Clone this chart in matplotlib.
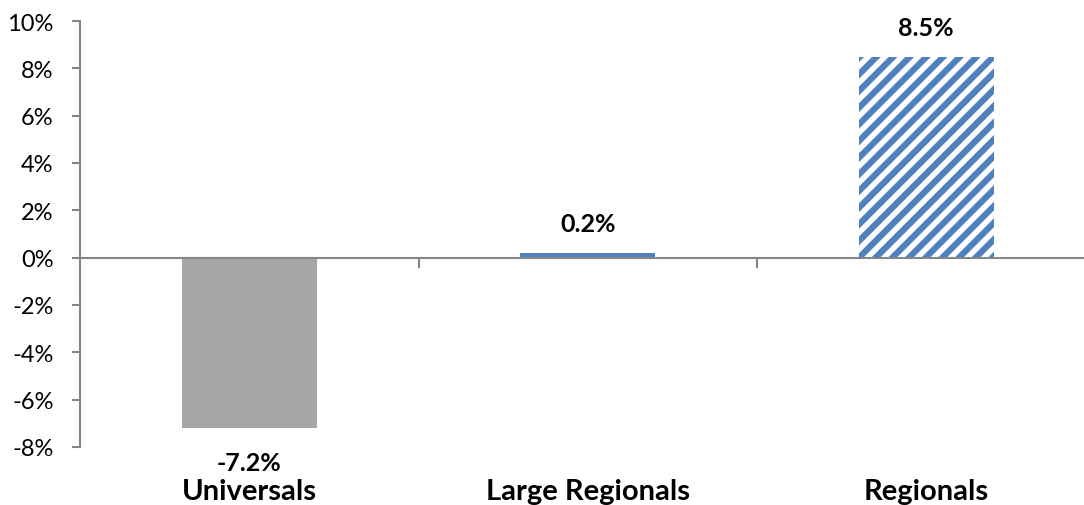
import matplotlib.pyplot as plt
from matplotlib.ticker import FuncFormatter

categories = ['Universals', 'Large Regionals', 'Regionals']
growth = [-7.2, 0.2, 8.5]
y_ticks = [-8, -6, -4, -2, 0, 2, 4, 6, 8, 10]

gray = '#A6A6A6'
blue = '#4F81BD'
axis_color = '#868686'

plt.rcParams['font.family'] = ['Lato', 'DejaVu Sans']
plt.rcParams['hatch.linewidth'] = 4.5
plt.rcParams['hatch.color'] = blue

fig = plt.figure(figsize=(10.84, 5.06), dpi=100)
ax = fig.add_axes([80 / 1084, 1 - 448 / 506, 1 - 80 / 1084, 426 / 506])

x = list(range(len(categories)))
bars = ax.bar(x, growth, width=0.4, color=[gray, blue, 'white'], linewidth=0, zorder=2)
bars[2].set_hatch('//')

ax.set_yticks(y_ticks)
ax.yaxis.set_major_formatter(FuncFormatter(lambda v, _: f'{v:.0f}%'))
ax.set_xticks([0.5, 1.5, 2.5])
ax.set_xticklabels([])
# the category axis runs past the right edge of the figure
ax.set_xlim(-0.5, -0.5 + 1004 / 338.5)
ax.set_ylim(-8, 10)

for side in ['top', 'right']:
    ax.spines[side].set_visible(False)
ax.spines['left'].set_color(axis_color)
ax.spines['left'].set_linewidth(1.5)
ax.spines['bottom'].set_position(('data', 0))
ax.spines['bottom'].set_color(axis_color)
ax.spines['bottom'].set_linewidth(1.5)

ax.tick_params(axis='y', direction='out', length=6, width=1.5, color=axis_color,
               pad=13, labelsize=17, labelcolor='black')
ax.tick_params(axis='x', direction='out', length=7, width=1.5, color=axis_color)

# category names sit under the plot area, not at the zero line
for xi, name in zip(x, categories):
    ax.text(xi, -0.103, name, transform=ax.get_xaxis_transform(),
            ha='center', va='center', fontsize=21, fontweight='bold')

for b, v in zip(bars, growth):
    offset = 21 if v >= 0 else -25
    ax.annotate(f'{v:.1f}%', (b.get_x() + b.get_width() / 2, v),
                xytext=(0, offset), textcoords='offset points',
                ha='center', va='center', fontsize=18, fontweight='bold')

fig.savefig('out.png', dpi=100)
